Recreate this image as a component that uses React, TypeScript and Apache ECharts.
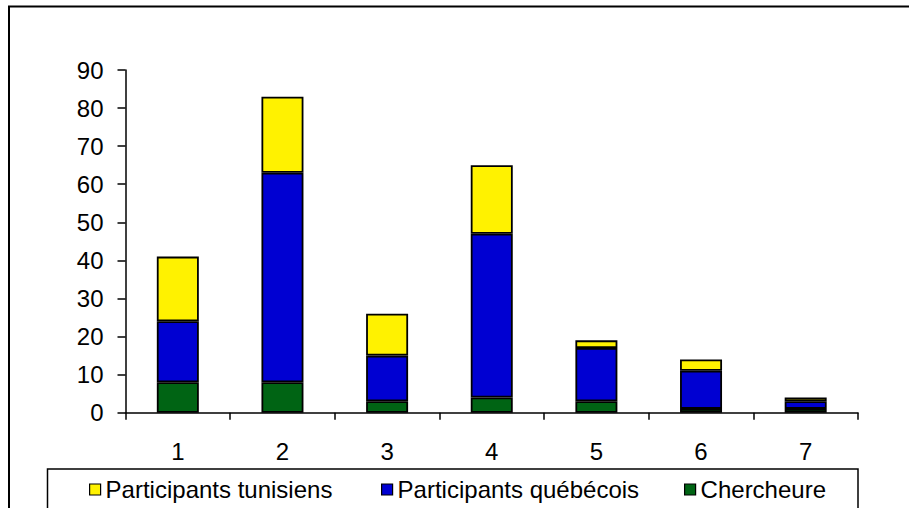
import React, { useEffect, useRef } from "react";
import * as echarts from "echarts";

const categories = ["1", "2", "3", "4", "5", "6", "7"];
const chercheure = [8, 8, 3, 4, 3, 1, 1];
const quebecois = [16, 55, 12, 43, 14, 10, 2];
const tunisiens = [17, 20, 11, 18, 2, 3, 1];
const yTicks = { min: 0, max: 90, interval: 10 };

const FONT = "'Liberation Sans', Arial, sans-serif";
const YELLOW = "#FFF200";
const BLUE = "#0000D2";
const GREEN = "#006414";

export default function App() {
  const ref = useRef<HTMLDivElement>(null);
  useEffect(() => {
    if (!ref.current) return;
    const chart = echarts.init(ref.current, null, { renderer: "svg" });
    const legendBase = {
      orient: "horizontal",
      top: 477.5,
      padding: 0,
      itemWidth: 11,
      itemHeight: 11,
      icon: "rect",
      selectedMode: false,
      textStyle: { fontFamily: FONT, fontSize: 24, color: "#000" },
      itemStyle: { borderColor: "#000", borderWidth: 1.2 },
    };
    const barBase = {
      type: "bar",
      stack: "total",
      barWidth: 42,
      itemStyle: { borderColor: "#000", borderWidth: 1.8 },
    };
    chart.setOption({
      animation: false,
      backgroundColor: "#fff",
      graphic: [
        {
          type: "rect",
          shape: { x: 9, y: 6.5, width: 1000, height: 1000 },
          style: { fill: "none", stroke: "#000", lineWidth: 2 },
          silent: true,
          z: 0,
        },
        {
          type: "rect",
          shape: { x: 47.5, y: 469, width: 810.5, height: 200 },
          style: { fill: "none", stroke: "#000", lineWidth: 1.5 },
          silent: true,
          z: 0,
        },
      ],
      legend: [
        { ...legendBase, left: 89, data: ["Participants tunisiens"] },
        { ...legendBase, left: 381, data: ["Participants québécois"] },
        { ...legendBase, left: 684, data: ["Chercheure"] },
      ],
      grid: { left: 125.5, right: 51, top: 70, bottom: 95.3 },
      xAxis: {
        type: "category",
        data: categories,
        boundaryGap: true,
        axisLine: { lineStyle: { color: "#000", width: 1.5 } },
        axisTick: { show: true, length: 7, lineStyle: { color: "#000", width: 1.5 } },
        axisLabel: { margin: 27, fontFamily: FONT, fontSize: 24, color: "#000" },
        splitLine: { show: false },
      },
      yAxis: {
        type: "value",
        min: yTicks.min,
        max: yTicks.max,
        interval: yTicks.interval,
        axisLine: { show: true, lineStyle: { color: "#000", width: 1.5 } },
        axisTick: { show: true, length: 8, lineStyle: { color: "#000", width: 1.5 } },
        axisLabel: { margin: 22, fontFamily: FONT, fontSize: 24, color: "#000" },
        splitLine: { show: false },
      },
      series: [
        { ...barBase, name: "Chercheure", data: chercheure, itemStyle: { ...barBase.itemStyle, color: GREEN } },
        { ...barBase, name: "Participants québécois", data: quebecois, itemStyle: { ...barBase.itemStyle, color: BLUE } },
        { ...barBase, name: "Participants tunisiens", data: tunisiens, itemStyle: { ...barBase.itemStyle, color: YELLOW } },
      ],
    });
    return () => chart.dispose();
  }, []);
  return (
    <div
      ref={ref}
      style={{ position: "absolute", left: 0, top: 0, width: 909, height: 508 }}
    />
  );
}
